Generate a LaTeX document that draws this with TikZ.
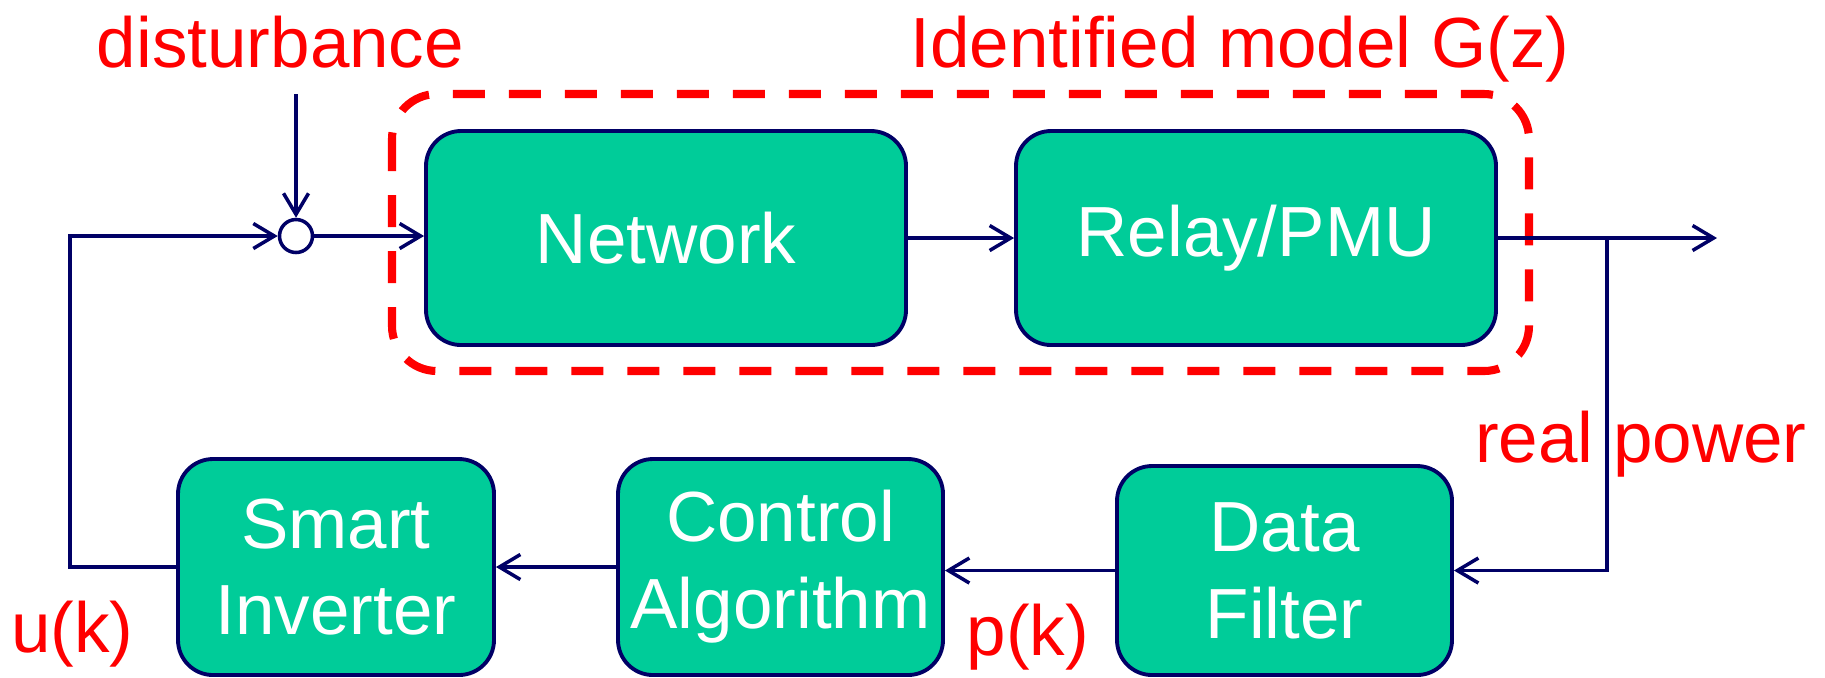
\documentclass[tikz,border=0pt]{standalone}
\usepackage{fontspec}
\setmainfont{Liberation Sans}
\usepackage{tikz}
\usetikzlibrary{arrows.meta,positioning}

\definecolor{blockfill}{RGB}{0,204,153}
\definecolor{navy}{RGB}{0,0,102}

\begin{document}
\begin{tikzpicture}[
    every node/.style={font=\fontsize{20.2pt}{24.7pt}\selectfont},
    block/.style={
      draw=navy, line width=1.1pt,
      fill=blockfill, text=white,
      rounded corners=0.35cm, align=center,
      inner sep=0pt
    },
    sumjn/.style={
      draw=navy, line width=1pt, fill=white,
      circle, minimum size=0.33cm, inner sep=0pt
    },
    arrow/.style={-{Straight Barb[length=2.1mm, width=2.5mm]}, line width=1pt, navy},
    redlabel/.style={text=red, anchor=base},
    modelbox/.style={draw=red, line width=2.3pt, rounded corners=0.45cm,
      dash pattern=on 0.32cm off 0.24cm}
  ]

    \useasboundingbox (0,0) rectangle (18.25,-6.77);

    \node[block, minimum width=4.80cm, minimum height=2.14cm] (net) at (6.66,-2.38) {Network};
    \node[block, minimum width=4.80cm, minimum height=2.14cm] (relay) at (12.56,-2.38) {Relay/PMU};

    \node[block, minimum width=3.16cm, minimum height=2.16cm] (inv) at (3.36,-5.67) {Smart\\Inverter};
    \node[block, minimum width=3.25cm, minimum height=2.16cm] (ctrl) at (7.805,-5.67) {Control\\Algorithm};
    \node[block, minimum width=3.35cm, minimum height=2.09cm] (filt) at (12.845,-5.705) {Data\\Filter};

    \node[sumjn] (sum) at (2.96,-2.36) {};

    \draw[modelbox] (3.92,-0.94) rectangle (15.29,-3.71);

    \node[redlabel] (distlbl) at (2.805,-0.67) {disturbance};
    \node[redlabel] (gzlbl) at (12.40,-0.67) {Identified model G(z)};
    \node[redlabel] (powlbl) at (16.41,-4.62) {real power};
    \node[redlabel] (ulbl) at (0.725,-6.52) {u(k)};
    \node[redlabel] (plbl) at (10.28,-6.55) {p(k)};

    \coordinate (dist) at (2.96,-0.94);
    \coordinate (br) at (16.07,-2.38);
    \coordinate (out) at (17.17,-2.38);

    \draw[arrow] (dist) -- (sum.north);
    \draw[arrow] (sum.east) -- (sum.east -| net.west);
    \draw[arrow] (net) -- (relay);
    \draw[arrow] (relay.east) -- (out);
    \draw[arrow] (br) |- (filt.east);
    \draw[arrow] (filt.west) -- (filt.west -| ctrl.east);
    \draw[arrow] (ctrl) -- (inv);
    \draw[arrow] (inv.west) -- ++(-1.06,0) |- (sum.west);

  \end{tikzpicture}
\end{document}
